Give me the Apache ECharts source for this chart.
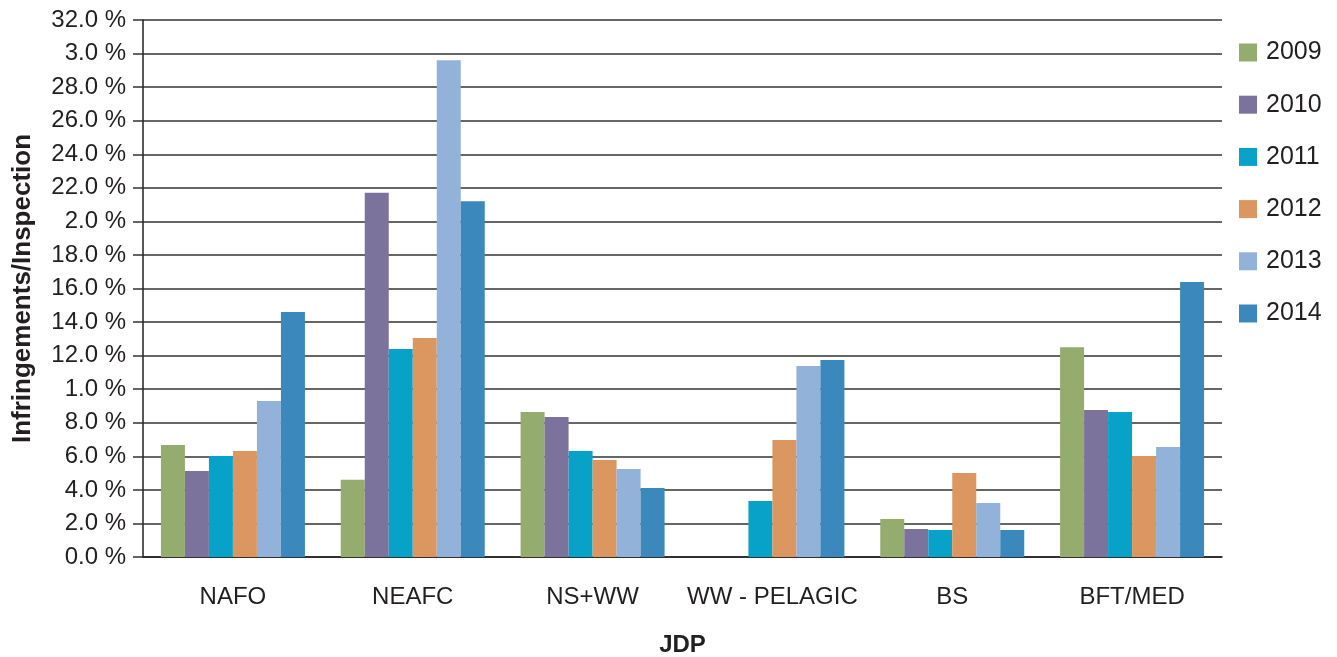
<!DOCTYPE html>
<html>
<head>
<meta charset="utf-8">
<script src="https://cdn.jsdelivr.net/npm/echarts@6/dist/echarts.min.js"></script>
<style>
  html, body { margin: 0; padding: 0; background: #ffffff; }
  #chart { width: 1337px; height: 657px; }
</style>
</head>
<body>
<div id="chart"></div>
<script>
// JDP groups on the category axis
const categories = ['NAFO', 'NEAFC', 'NS+WW', 'WW - PELAGIC', 'BS', 'BFT/MED'];

// Infringements per inspection (%), one array per year
const years = ['2009', '2010', '2011', '2012', '2013', '2014'];
const v2009 = [6.67, 4.6, 8.64, 0, 2.26, 12.5];
const v2010 = [5.12, 21.7, 8.34, 0, 1.67, 8.76];
const v2011 = [6.02, 12.4, 6.32, 3.34, 1.61, 8.64];
const v2012 = [6.32, 13.05, 5.78, 6.97, 5.0, 6.02];
const v2013 = [9.3, 29.6, 5.24, 11.38, 3.22, 6.56];
const v2014 = [14.6, 21.2, 4.11, 11.74, 1.61, 16.39];

// Value-axis tick labels, bottom to top (printed as on the original sheet)
const yTickLabels = ['0.0 %', '2.0 %', '4.0 %', '6.0 %', '8.0 %', '1.0 %', '12.0 %', '14.0 %',
  '16.0 %', '18.0 %', '2.0 %', '22.0 %', '24.0 %', '26.0 %', '28.0 %', '3.0 %', '32.0 %'];

const colors = ['#95ac6f', '#7c739d', '#08a2c9', '#dc965f', '#92b2da', '#3b88bc'];
const seriesValues = [v2009, v2010, v2011, v2012, v2013, v2014];

const FONT = 'Liberation Sans, Arial, sans-serif';
const TEXT = '#231f20';

const chart = echarts.init(document.getElementById('chart'), null, { renderer: 'canvas' });

chart.setOption({
  animation: false,
  color: colors,
  grid: { left: 143, right: 115, top: 20, bottom: 100, containLabel: false, outerBoundsMode: 'none' },
  legend: {
    orient: 'vertical',
    left: 1234,
    top: 35,
    itemWidth: 18,
    itemHeight: 18,
    itemGap: 27.2,
    icon: 'rect',
    textStyle: { fontFamily: FONT, fontSize: 25, color: TEXT, padding: [0, 0, 0, 4] },
    data: years
  },
  xAxis: {
    type: 'category',
    data: categories,
    name: 'JDP',
    nameLocation: 'middle',
    nameGap: 76,
    nameTextStyle: { fontFamily: FONT, fontSize: 24, fontWeight: 'bold', color: TEXT },
    axisLine: { lineStyle: { color: '#231f20', width: 1.5 } },
    axisTick: { alignWithLabel: true, length: 11, lineStyle: { color: '#555555', width: 2 } },
    axisLabel: { interval: 0, fontFamily: FONT, fontSize: 24, color: TEXT, margin: 28 }
  },
  yAxis: {
    type: 'value',
    min: 0,
    max: 32,
    interval: 2,
    name: 'Infringements/Inspection',
    nameLocation: 'middle',
    nameGap: 107,
    nameTextStyle: { fontFamily: FONT, fontSize: 26, fontWeight: 'bold', color: TEXT },
    axisLine: { show: true, lineStyle: { color: '#231f20', width: 1.5 } },
    axisTick: { show: true, length: 10, lineStyle: { color: '#333333', width: 1.5 } },
    axisLabel: {
      fontFamily: FONT, fontSize: 24, color: TEXT, margin: 17,
      formatter: function (val) { return yTickLabels[Math.round(val / 2)]; }
    },
    splitLine: { show: true, lineStyle: { color: '#333333', width: 1.5 } }
  },
  series: years.map(function (y, i) {
    return {
      name: y,
      type: 'bar',
      data: seriesValues[i],
      barWidth: 24,
      barGap: '0%',
      itemStyle: { color: colors[i] }
    };
  })
});
</script>
</body>
</html>
